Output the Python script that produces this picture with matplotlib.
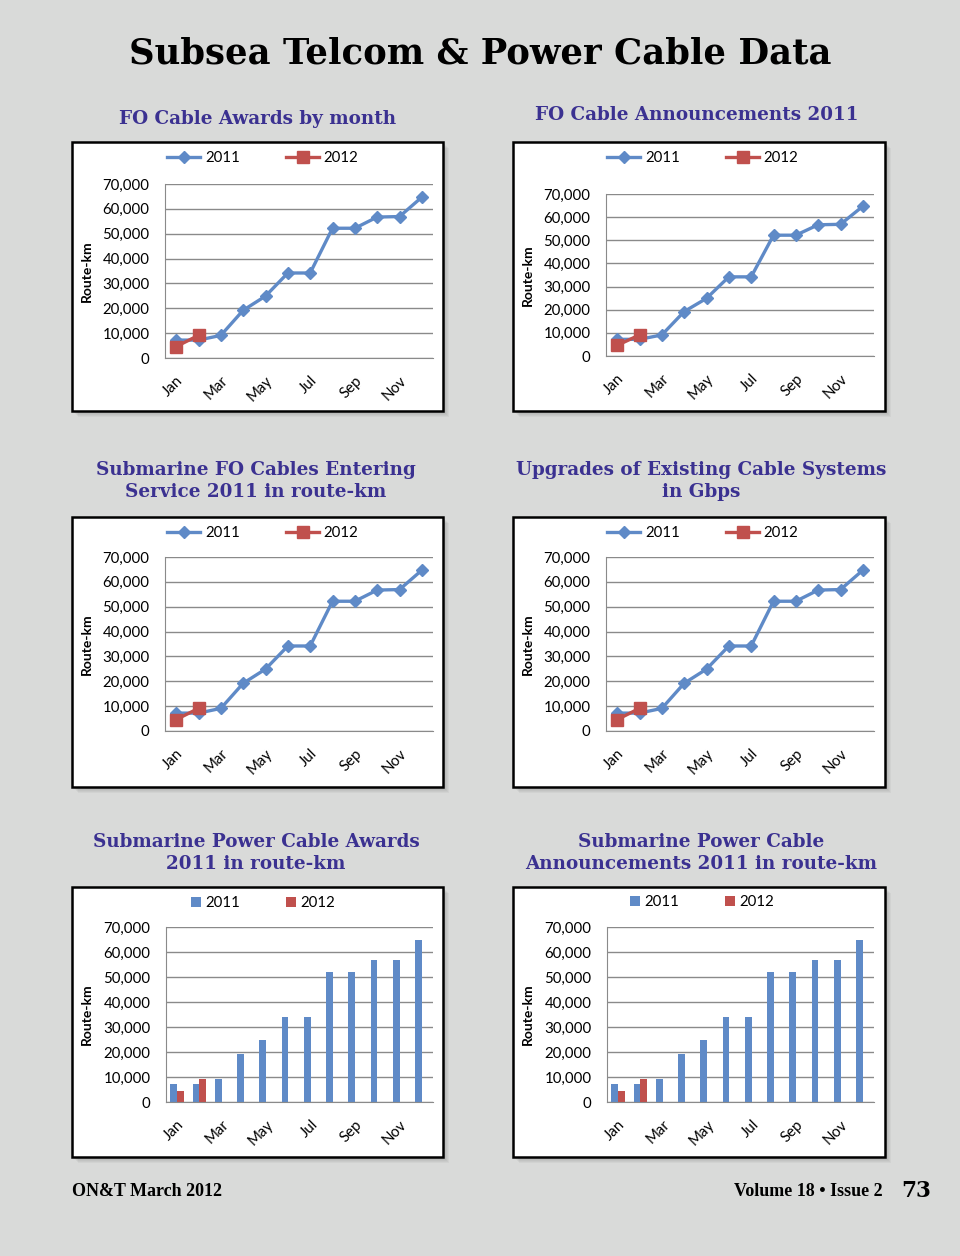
import matplotlib
matplotlib.use('Agg')
import matplotlib.pyplot as plt
from matplotlib.patches import Rectangle
from matplotlib.ticker import FuncFormatter, FixedLocator

# ------------------ DATA -------------------------------------
months = ['Jan', 'Feb', 'Mar', 'Apr', 'May', 'Jun',
          'Jul', 'Aug', 'Sep', 'Oct', 'Nov', 'Dec']
km_2011 = [7200, 7200, 9100, 19200, 24900, 34200,
           34200, 52200, 52200, 56700, 56900, 64700]
km_2012 = [4600, 9100]
series_names = ['2011', '2012']
yticks = [0, 10000, 20000, 30000, 40000, 50000, 60000, 70000]

page_title = 'Subsea Telcom & Power Cable Data'
panel_titles = [
    'FO Cable Awards by month',
    'FO Cable Announcements 2011',
    'Submarine FO Cables Entering\nService 2011 in route-km',
    'Upgrades of Existing Cable Systems\nin Gbps',
    'Submarine Power Cable Awards\n2011 in route-km',
    'Submarine Power Cable\nAnnouncements 2011 in route-km',
]
footer_left = 'ON&T March 2012'
footer_right = 'Volume 18 \u2022 Issue 2'
page_no = '73'

# ------------------ LAYOUT (pixels) -------------------------------------
W, H = 960, 1256
BG = '#d9dad9'
BLUE = '#5f8ac7'
RED = '#c0504d'
PURPLE = '#3b3191'
GRID = '#8a8a8a'

panels = [
    # box, plot area, title center, legend center, kind
    dict(box=(72, 142, 443, 411), plot=(165, 184, 433, 358), title=(258, 119), leg=(263, 158), kind='line'),
    dict(box=(513, 142, 885, 411), plot=(606, 194, 874, 356), title=(697, 115), leg=(703, 158), kind='line'),
    dict(box=(72, 517, 443, 787), plot=(165, 557, 433, 731), title=(256, 481), leg=(263, 533), kind='line'),
    dict(box=(513, 517, 885, 787), plot=(606, 557, 874, 731), title=(701, 481), leg=(703, 533), kind='line'),
    dict(box=(72, 887, 443, 1157), plot=(166, 927, 433, 1102), title=(256, 853), leg=(263, 903), kind='bar'),
    dict(box=(513, 887, 885, 1157), plot=(607, 927, 874, 1102), title=(701, 853), leg=(702, 902), kind='bar'),
]


def rect(x0, y0, x1, y1):
    return [x0 / W, 1 - y1 / H, (x1 - x0) / W, (y1 - y0) / H]


def fx(x):
    return x / W


def fy(y):
    return 1 - y / H


fig = plt.figure(figsize=(W / 100, H / 100), dpi=100, facecolor=BG)

fig.text(0.5, fy(53), page_title, ha='center', va='center', fontsize=25.5,
         fontweight='bold', family='DejaVu Serif', color='black')

thousands = FuncFormatter(lambda v, p: '{:,}'.format(int(v)))

for i, p in enumerate(panels):
    x0, y0, x1, y1 = p['box']
    # soft drop shadow
    for k in range(1, 7):
        fig.patches.append(Rectangle((fx(x0 + k), fy(y1 + k)), (x1 - x0) / W, (y1 - y0) / H,
                                     transform=fig.transFigure, facecolor='#555555',
                                     edgecolor='none', alpha=0.06, zorder=-3))
    fig.patches.append(Rectangle((fx(x0), fy(y1)), (x1 - x0) / W, (y1 - y0) / H,
                                 transform=fig.transFigure, facecolor='white',
                                 edgecolor='black', linewidth=1.8, zorder=-2))

    tx, ty = p['title']
    fig.text(fx(tx), fy(ty), panel_titles[i], ha='center', va='center', fontsize=13.2,
             fontweight='bold', family='DejaVu Serif', color=PURPLE, linespacing=1.35)

    ax = fig.add_axes(rect(*p['plot']))
    ax.set_zorder(2)
    ax.set_facecolor('none')
    xs = list(range(len(months)))
    if p['kind'] == 'line':
        h1, = ax.plot(xs, km_2011, color=BLUE, lw=2.4, marker='D', ms=6.5, label=series_names[0])
        h2, = ax.plot(xs[:len(km_2012)], km_2012, color=RED, lw=2.4, marker='s', ms=8,
                      label=series_names[1])
        handles = [h1, h2]
        colsp = 3.1
    else:
        bw = 0.3
        h1 = ax.bar([x - bw / 2 for x in xs], km_2011, width=bw, color=BLUE, label=series_names[0])
        h2 = ax.bar([x + bw / 2 for x in xs[:len(km_2012)]], km_2012, width=bw, color=RED,
                    label=series_names[1])
        handles = [h1, h2]
        colsp = 3.0

    ax.set_xlim(-0.5, len(months) - 0.5)
    ax.set_ylim(0, 70000)
    ax.yaxis.set_major_locator(FixedLocator(yticks))
    ax.yaxis.set_major_formatter(thousands)
    ax.grid(axis='y', color=GRID, lw=1)
    ax.set_axisbelow(True)
    for s in ['top', 'right']:
        ax.spines[s].set_visible(False)
    for s in ['left', 'bottom']:
        ax.spines[s].set_color(GRID)
    ax.set_xticks(xs[::2])
    ax.set_xticklabels(months[::2], rotation=45, ha='right', rotation_mode='anchor')
    ax.tick_params(axis='both', length=0, labelsize=10.8, colors='black')
    ax.tick_params(axis='y', pad=11)
    ax.tick_params(axis='x', pad=11)
    for lab in ax.get_xticklabels() + ax.get_yticklabels():
        lab.set_family('Lato')

    px0, py0, px1, py1 = p['plot']
    fig.text(fx(x0 + 15), fy((py0 + py1) / 2), 'Route-km', rotation=90, ha='center',
             va='center', fontsize=10, fontweight='bold', family='Lato')

    lx, ly = p['leg']
    leg = ax.legend(handles=handles, loc='center', bbox_to_anchor=(fx(lx), fy(ly)),
                    bbox_transform=fig.transFigure, ncol=2, frameon=False,
                    columnspacing=colsp, handlelength=2.2 if p['kind'] == 'line' else 0.7,
                    handletextpad=0.3, prop={'family': 'Lato', 'size': 10.8})

fig.text(fx(72), fy(1191), footer_left, ha='left', va='center', fontsize=13,
         fontweight='bold', family='Liberation Serif')
fig.text(fx(883), fy(1191), footer_right, ha='right', va='center', fontsize=13,
         fontweight='bold', family='Liberation Serif')
fig.text(fx(931), fy(1191), page_no, ha='right', va='center', fontsize=15.5,
         fontweight='bold', family='DejaVu Serif')

fig.savefig('out.png', dpi=100, facecolor=BG)
